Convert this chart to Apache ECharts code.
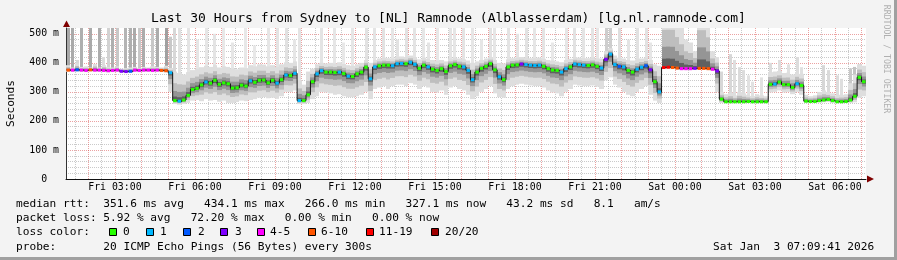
<!DOCTYPE html>
<html><head><meta charset="utf-8">
<script src="https://cdn.jsdelivr.net/npm/echarts@6/dist/echarts.min.js"></script>
<style>html,body{margin:0;padding:0;background:#f3f3f3}#c{width:897px;height:260px}</style>
</head><body><div id="c"></div><script>
// time in minutes since Fri 00:00; one slot = 10 minutes, starting Fri 01:10
const X_START = 70, SLOT = 10, X_END = 1870, Y_MAX = 520;
const xTickMinutes = [180,360,540,720,900,1080,1260,1440,1620,1800];
const xTickLabels = ['Fri 03:00','Fri 06:00','Fri 09:00','Fri 12:00','Fri 15:00','Fri 18:00','Fri 21:00','Sat 00:00','Sat 03:00','Sat 06:00'];
const yTickValues = [0,100,200,300,400,500];
const yTickLabels = ['0  ','100 m','200 m','300 m','400 m','500 m'];

const median = [
375,375,376,375,374,376,375,375,374,373,374,375,371,370,371,375,374,375,375,374,375,374,373,366,
270,268,272,288,308,312,324,334,330,340,326,331,328,313,314,323,320,338,333,340,341,331,340,330,342,358,356,364,270,270,
290,335,362,373,368,368,367,368,363,354,
353,362,368,385,345,386,390,392,392,390,
397,398,397,402,395,381,392,386,378,374,
380,370,390,394,388,386,374,342,368,381,
388,397,376,352,342,386,392,393,396,394,
392,391,392,388,380,375,374,368,380,386,
396,394,392,391,393,388,382,412,430,394,
388,386,374,368,378,385,390,376,335,300,
384,385,384,382,380,380,380,381,381,381,380,378,372,
275,266,266,266,266,266,267,266,266,266,266,
326,327,334,325,325,315,328,322,
268,267,267,270,272,274,270,266,266,267,272,285,350,335];
const loss = [
5,4,2,4,4,5,4,4,4,4,4,4,3,3,2,4,4,4,4,4,4,5,5,1,
0,1,0,0,0,0,0,1,0,0,0,0,0,0,0,0,0,1,0,0,0,0,0,1,0,1,0,1,1,0,
0,0,1,1,0,0,0,1,0,1,
0,0,0,0,1,1,0,0,0,1,
1,1,0,1,1,0,0,1,0,0,
0,0,0,0,0,1,1,1,0,0,
0,0,0,1,0,0,0,0,3,1,
1,1,1,0,0,0,0,1,1,0,
1,1,1,0,0,0,1,3,1,1,
2,1,0,0,1,1,2,3,0,1,
6,6,5,5,4,4,4,3,5,5,5,4,3,
0,0,0,0,0,0,0,0,0,0,0,
0,1,0,0,0,0,1,0,
0,0,0,0,0,0,0,0,0,0,0,0,0,0];
const lo = [
369,369,370,369,368,370,369,369,368,367,368,369,366,365,366,369,368,369,369,368,369,368,367,300,
258,256,258,262,270,272,268,275,270,272,266,270,262,262,265,270,268,272,275,280,282,278,280,276,285,300,300,305,258,258,
262,275,285,300,298,295,290,292,285,282,
282,285,290,300,275,310,315,320,310,320,
325,325,320,330,325,310,320,315,300,298,
305,290,315,320,310,305,290,275,285,300,
310,320,295,282,280,310,320,325,328,325,
322,320,320,315,305,298,295,285,300,310,
325,322,320,320,322,318,310,340,350,325,
315,300,290,285,300,310,320,290,270,262,
378,378,378,376,375,375,375,375,376,376,375,372,300,
262,262,262,262,262,262,262,262,262,262,262,
298,300,305,298,300,292,300,290,
262,262,262,263,264,265,262,262,262,262,262,264,280,285];
const hi = [
392,384,398,386,388,384,396,384,392,386,384,388,380,382,384,386,382,386,384,388,386,384,390,382,
370,365,360,368,375,380,385,390,386,392,384,388,386,380,378,384,382,392,388,395,394,388,392,386,395,402,400,405,340,325,
370,380,395,400,398,400,398,402,396,392,
390,395,400,410,400,410,415,418,416,415,
420,422,420,425,420,412,418,414,410,408,
410,405,415,418,415,412,408,400,405,410,
415,420,410,400,398,412,416,418,420,418,
416,416,418,414,410,408,405,402,410,414,
420,418,416,416,418,415,415,440,450,425,
418,415,410,408,412,415,418,410,395,390,
600,600,600,560,520,480,470,440,600,600,560,440,420,
300,292,298,288,300,295,290,286,292,288,285,
368,370,372,365,366,360,368,362,
290,285,288,300,305,300,295,288,290,292,330,360,395,390];

// isolated outlier pings (narrow bars above the smoke)
const spikeSlot = [0,1,2,3,5,7,8,9,10,11,13,14,15,16,17,19,20,22,23,
 24,25,27,29,31,33,35,37,40,42,45,47,49,51,52,
 57,60,62,64,67,69,71,73,74,76,78,80,81,83,86,87,89,91,93,95,96,99,101,103,105,107,109,112,114,116,118,119,121,122,124,126,128,130,131,
 147,149,150,151,152,153,154,156, 158,160,162,164,165, 170,171,173,174,176,177,178,179];
const spikeTop = [600,600,410,600,600,600,420,600,600,600,600,600,600,600,600,600,600,600,490,
 600,600,600,480,600,500,600,470,600,460,600,520,600,480,600,
 600,600,470,600,600,600,600,600,480,600,600,600,470,600,600,520,600,600,480,600,600,600,500,600,600,600,470,600,600,520,600,600,600,600,600,480,600,600,470,
 370,430,410,385,375,357,335,350, 400,410,395,420,385, 392,375,357,345,381,386,395,380];
const spikeGray = [168,170,215,175,170,172,220,210,175,200,180,175,170,200,172,200,172,160,200,
 215,225,228,230,230,228,232,230,232,232,230,228,225,230,228,
 228,230,232,230,226,228,226,230,226,226,228,230,228,232,228,230,228,230,230,226,230,228,228,226,230,228,232,230,226,228,228,230,205,205,222,228,226,226,230,
 215,215,222,218,220,225,225,225, 220,222,224,220,224, 215,218,220,222,200,195,200,205];

const lossLabels = ['0','1','2','3','4-5','6-10','11-19','20/20'];
const lossColors = ['#26ff00','#00b8ff','#0059ff','#7e00ff','#ff00ff','#ff5500','#ff0000','#a00000'];

const MONO = '"DejaVu Sans Mono", monospace';
const SHADES = [[1,'#dedede'],[0.6,'#bebebe'],[0.33,'#959595'],[0.14,'#606060']];
const GRID_C = 'rgba(150,150,150,0.5)', MGRID_C = 'rgba(215,70,70,0.5)', T = 'rgba(0,0,0,0)';

const slotData = median.map((m,i)=>[X_START + i*SLOT + SLOT/2, m]);

function smokeItem(params, api){
  const i = params.dataIndex, t = X_START + i*SLOT, m = median[i];
  const xa = Math.round(api.coord([t,0])[0]), xb = Math.round(api.coord([t+SLOT,0])[0]);
  const kids = SHADES.map(([f,c])=>{
    const top = Math.min(m + f*(hi[i]-m), Y_MAX), bot = m - f*(m-lo[i]);
    const yt = api.coord([t,top])[1], yb = api.coord([t,bot])[1];
    return {type:'rect', shape:{x:xa, y:yt, width:xb-xa, height:Math.max(yb-yt,1)}, style:{fill:c}};
  });
  return {type:'group', children:kids};
}
function spikeItem(params, api){
  const k = params.dataIndex, s = spikeSlot[k];
  const c = api.coord([X_START + s*SLOT + SLOT/2, Math.min(spikeTop[k], Y_MAX)]);
  const yb = api.coord([0, median[s]])[1];
  const g = spikeGray[k];
  return {type:'rect', shape:{x:Math.round(c[0]-1.5), y:c[1], width:3, height:yb-c[1]}, style:{fill:'rgb('+g+','+g+','+g+')'}};
}
function markItem(params, api){
  const i = params.dataIndex;
  const c = api.coord([X_START + i*SLOT + SLOT/2, median[i]]);
  return {type:'rect', shape:{x:c[0]-1.7, y:c[1]-1.5, width:3.4, height:3}, style:{fill:lossColors[loss[i]]}};
}

const txt = (text, x, y, extra) => Object.assign({type:'text', silent:true, style:Object.assign({text, x, y, font:'11.17px '+MONO, fill:'#000', align:'left', verticalAlign:'middle', textAlign:'left', textVerticalAlign:'middle'}, extra||{})});

const graphics = [
  {type:'rect', shape:{x:0,y:257,width:897,height:3}, style:{fill:'#a0a0a0'}, silent:true},
  {type:'rect', shape:{x:894,y:0,width:3,height:260}, style:{fill:'#a0a0a0'}, silent:true},
  txt('Last 30 Hours from Sydney to [NL] Ramnode (Alblasserdam) [lg.nl.ramnode.com]', 448.5, 19, {font:'13px '+MONO, align:'center', textAlign:'center'}),
  {type:'text', silent:true, x:11, y:103.5, rotation:Math.PI/2, style:{text:'Seconds', font:'11.17px '+MONO, fill:'#000', align:'center', verticalAlign:'middle', textAlign:'center', textVerticalAlign:'middle'}},
  {type:'text', silent:true, x:886, y:59, rotation:-Math.PI/2, style:{text:'RRDTOOL / TOBI OETIKER', font:'8.2px '+MONO, fill:'#b0b0b0', align:'center', verticalAlign:'middle', textAlign:'center', textVerticalAlign:'middle'}},
  txt('median rtt:  351.6 ms avg   434.1 ms max   266.0 ms min   327.1 ms now   43.2 ms sd   8.1   am/s', 16, 204),
  txt('packet loss: 5.92 % avg   72.20 % max   0.00 % min   0.00 % now', 16, 218.3),
  txt('loss color:', 16, 232.4),
  txt('probe:       20 ICMP Echo Pings (56 Bytes) every 300s', 16, 246.7),
  txt('Sat Jan  3 07:09:41 2026', 713, 246.7),
  {type:'polygon', silent:true, shape:{points:[[867,175.5],[874,179],[867,182.5]]}, style:{fill:'#7f0000'}},
  {type:'polygon', silent:true, shape:{points:[[63,27],[66.5,20.5],[70,27]]}, style:{fill:'#7f0000'}}
];
const boxX = [109,146,183,220,257,308,366,431];
const labX = [123,160,198,235,270,321,379,445];
lossLabels.forEach((l,k)=>{
  graphics.push({type:'rect', silent:true, shape:{x:boxX[k]+0.5, y:228.5, width:7, height:7}, style:{fill:lossColors[k], stroke:'#000', lineWidth:1}});
  graphics.push(txt(l, labX[k], 232.4));
});

const chart = echarts.init(document.getElementById('c'), null, {renderer:'canvas'});
chart.setOption({
  animation:false,
  backgroundColor:'#f3f3f3',
  grid:{left:66, top:28, width:800, height:151, show:true, backgroundColor:'#ffffff', borderWidth:0, containLabel:false},
  xAxis:{type:'value', min:X_START, max:X_END, interval:10,
    axisLine:{show:true, onZero:false, lineStyle:{color:'#111', width:1}},
    axisTick:{show:false},
    axisLabel:{show:true, margin:3, fontFamily:MONO, fontSize:9.86, color:'#000',
      formatter:(v)=>{const k = xTickMinutes.indexOf(Math.round(v)); return k>=0 ? xTickLabels[k] : '';}},
    splitLine:{show:true, showMinLine:true, showMaxLine:true, lineStyle:{color:[T,T,GRID_C,T,T,MGRID_C], width:1, type:[1,1]}}
  },
  yAxis:{type:'value', min:0, max:Y_MAX, interval:20,
    axisLine:{show:true, lineStyle:{color:'#333', width:1}},
    axisTick:{show:false},
    axisLabel:{show:true, margin:7, fontFamily:MONO, fontSize:9.86, color:'#000',
      formatter:(v)=>{const k = yTickValues.indexOf(Math.round(v)); return k>=0 ? yTickLabels[k] : '';}},
    splitLine:{show:true, showMaxLine:false, lineStyle:{color:[MGRID_C,GRID_C,GRID_C,GRID_C,GRID_C], width:1, type:[1,1]}}
  },
  graphic:graphics,
  series:[
    {type:'custom', z:2, silent:true, data:spikeSlot.map((s,k)=>[X_START+s*SLOT+SLOT/2, spikeTop[k]]), renderItem:spikeItem, clip:true},
    {type:'custom', z:3, silent:true, data:slotData, renderItem:smokeItem, clip:true},
    {type:'line', z:4, silent:true, data:slotData, step:'middle', symbol:'none', lineStyle:{color:'#151515', width:1}},
    {type:'custom', z:5, silent:true, data:slotData, renderItem:markItem}
  ]
});
</script></body></html>
